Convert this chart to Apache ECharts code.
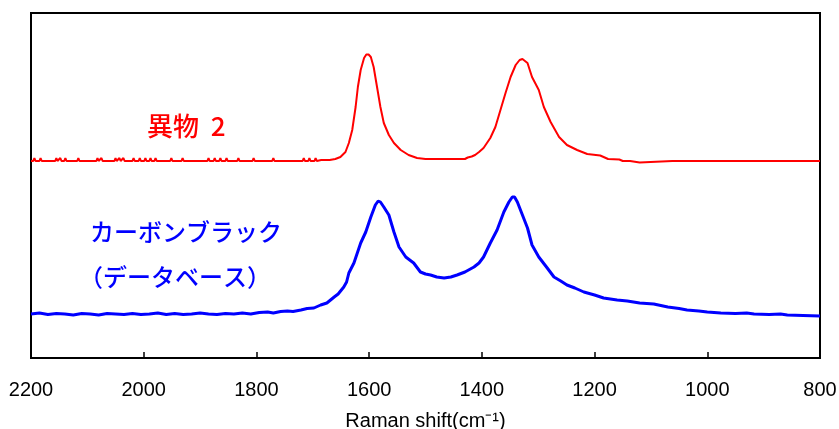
<!DOCTYPE html>
<html lang="ja">

<head>
    <meta charset="UTF-8">
    <title>Raman spectrum</title>
    <script src="https://cdn.jsdelivr.net/npm/echarts@6/dist/echarts.min.js"></script>
    <style>
        body { margin: 0; background: #fff; }
    </style>
</head>

<body>
    <div id="main" style="width: 839px;height:429px;"></div>

    <script>
        // x軸 (Raman shift) の目盛り
        const xMin = 800
        const xMax = 2200
        const xStep = 200

        // 異物 2 : [Raman shift, 強度]
        const foreignData = [
            [2200, 197], [2196, 197], [2194, 200], [2192, 197], [2185, 197], [2183, 200], [2181, 197],
            [2157, 197], [2155, 200], [2153, 197], [2150, 197], [2148, 200], [2146, 197], [2141, 197], [2139, 200], [2137, 197],
            [2118, 197], [2116, 200], [2114, 197],
            [2084, 197], [2082, 200], [2080, 197], [2077, 197], [2075, 200], [2073, 197],
            [2052, 197], [2050, 200], [2048, 197], [2045, 197], [2043, 200], [2041, 197], [2038, 197], [2036, 200], [2034, 197],
            [2020, 197], [2018, 200], [2016, 197], [2009, 197], [2007, 200], [2005, 197], [1999, 197], [1997, 200], [1995, 197],
            [1990, 197], [1988, 200], [1986, 197], [1981, 197], [1979, 200], [1977, 197],
            [1953, 197], [1951, 200], [1949, 197], [1933, 197], [1931, 200], [1929, 197],
            [1887, 197], [1885, 200], [1883, 197], [1876, 197], [1874, 200], [1872, 197], [1866, 197], [1864, 200], [1862, 197],
            [1855, 197], [1853, 200], [1851, 197], [1834, 197], [1832, 200], [1830, 197],
            [1807, 197], [1805, 200], [1803, 197], [1772, 197], [1770, 200], [1768, 197],
            [1718, 197], [1716, 200], [1714, 197], [1708, 197], [1706, 200], [1704, 197], [1697, 197], [1695, 200], [1693, 197],
            [1685, 198], [1683, 200], [1681, 198],
            [1670, 198], [1660, 199], [1651, 201], [1642, 206], [1636, 215], [1630, 228], [1624, 251], [1620, 271],
            [1615, 288], [1609, 300], [1605, 303.5], [1601, 303.5], [1597, 301], [1592, 291], [1586, 271], [1580, 251],
            [1574, 235], [1565, 223], [1556, 215], [1544, 208], [1530, 203], [1515, 200], [1500, 199],
            [1450, 199], [1447, 201], [1443, 199], [1430, 199], [1425, 200.5], [1418, 201.5], [1412, 203], [1405, 206],
            [1397, 210], [1385, 220], [1376, 231], [1367, 248], [1358, 265], [1349, 281], [1340, 293],
            [1333, 298], [1328, 299], [1319, 295], [1311, 281], [1299, 268], [1290, 251], [1278, 236], [1263, 221],
            [1249, 213], [1231, 208], [1213, 204], [1190, 202.5], [1182, 200.5], [1176, 199], [1156, 198.5],
            [1150, 197], [1137, 197], [1134, 195.5], [1120, 195.5], [1117, 197],
            [1062, 197], [1060, 195], [1058, 197], [920, 197], [918, 195], [916, 197], [911, 197], [909, 195], [907, 197],
            [800, 197]
        ]

        // カーボンブラック（データベース）
        const carbonData = [
            [2200, 44], [2185, 45], [2170, 43.5], [2155, 44.5], [2140, 44], [2125, 43], [2110, 44.5], [2095, 44],
            [2080, 43], [2065, 44.5], [2050, 44], [2035, 43.5], [2020, 44.5], [2005, 43.5], [1990, 44], [1975, 45],
            [1960, 43.5], [1945, 44.5], [1930, 43.5], [1915, 44], [1900, 45], [1885, 44], [1870, 43.5], [1855, 44.5],
            [1840, 44], [1825, 45], [1810, 44], [1795, 45.5], [1780, 46], [1770, 45], [1757, 46.5], [1745, 47],
            [1735, 46.5], [1721, 48], [1710, 49.5], [1698, 50], [1686, 53], [1675, 55], [1662, 61], [1655, 64],
            [1645, 71], [1640, 76], [1636, 85], [1627, 95], [1615, 115], [1606, 126], [1597, 141], [1589, 153],
            [1584, 157], [1580, 156], [1574, 151], [1565, 143], [1556, 126], [1547, 111], [1535, 101], [1521, 95],
            [1509, 86], [1500, 84], [1491, 83], [1480, 81], [1467, 80], [1455, 81], [1444, 83], [1430, 86],
            [1414, 91], [1405, 95], [1397, 101], [1385, 115], [1373, 128], [1361, 146], [1352, 156], [1346, 161],
            [1342, 161], [1337, 156], [1328, 143], [1319, 130], [1311, 113], [1299, 101], [1284, 90], [1272, 81],
            [1260, 77], [1249, 73], [1235, 70], [1219, 66], [1200, 63], [1184, 60], [1160, 58], [1142, 57],
            [1120, 55], [1095, 54], [1070, 51], [1050, 49.5], [1036, 48], [1015, 47], [1000, 46], [976, 45],
            [950, 44.5], [930, 45], [917, 44], [890, 43.5], [870, 44], [858, 43], [830, 42.5], [800, 42]
        ]

        const myChart = echarts.init(document.getElementById('main'));

        let option = {
            animation: false,
            grid: {
                left: 31,
                right: 19,
                top: 13,
                bottom: 71,
                outerBoundsMode: 'none',
                containLabel: false,
                show: true,
                borderColor: '#000',
                borderWidth: 2
            },
            xAxis: {
                type: 'value',
                inverse: true,
                min: xMin,
                max: xMax,
                interval: xStep,
                name: 'Raman shift(cm⁻¹)',
                nameLocation: 'middle',
                nameGap: 53,
                nameTextStyle: {
                    color: '#000',
                    fontSize: 20,
                    fontFamily: 'Liberation Sans'
                },
                axisLine: { lineStyle: { color: '#000', width: 2 } },
                axisTick: { inside: true, length: 6, lineStyle: { color: '#000', width: 1.5 } },
                axisLabel: {
                    margin: 22,
                    color: '#000',
                    fontSize: 20,
                    fontFamily: 'Liberation Sans',
                    // 桁区切りのカンマは付けない
                    formatter: (v) => String(v)
                },
                splitLine: { show: false }
            },
            yAxis: {
                type: 'value',
                min: 0,
                max: 345,
                show: false
            },
            graphic: [
                {
                    type: 'text',
                    style: {
                        x: 147, y: 126, text: '異物  2', fill: '#ff0000',
                        font: '500 26px "Noto Sans CJK JP"', verticalAlign: 'middle'
                    }
                },
                {
                    type: 'text',
                    style: {
                        x: 90, y: 232, text: 'カーボンブラック', fill: '#0000ff',
                        font: '500 24px "Noto Sans CJK JP"', verticalAlign: 'middle'
                    }
                },
                {
                    type: 'text',
                    style: {
                        x: 79, y: 277, text: '（データベース）', fill: '#0000ff',
                        font: '500 24px "Noto Sans CJK JP"', verticalAlign: 'middle'
                    }
                }
            ],
            series: [
                {
                    name: '異物 2',
                    type: 'line',
                    data: foreignData,
                    showSymbol: false,
                    lineStyle: { color: '#ff0000', width: 2 }
                },
                {
                    name: 'カーボンブラック',
                    type: 'line',
                    data: carbonData,
                    showSymbol: false,
                    lineStyle: { color: '#0000ff', width: 3 }
                }
            ]
        };

        myChart.setOption(option);
    </script>
</body>

</html>
